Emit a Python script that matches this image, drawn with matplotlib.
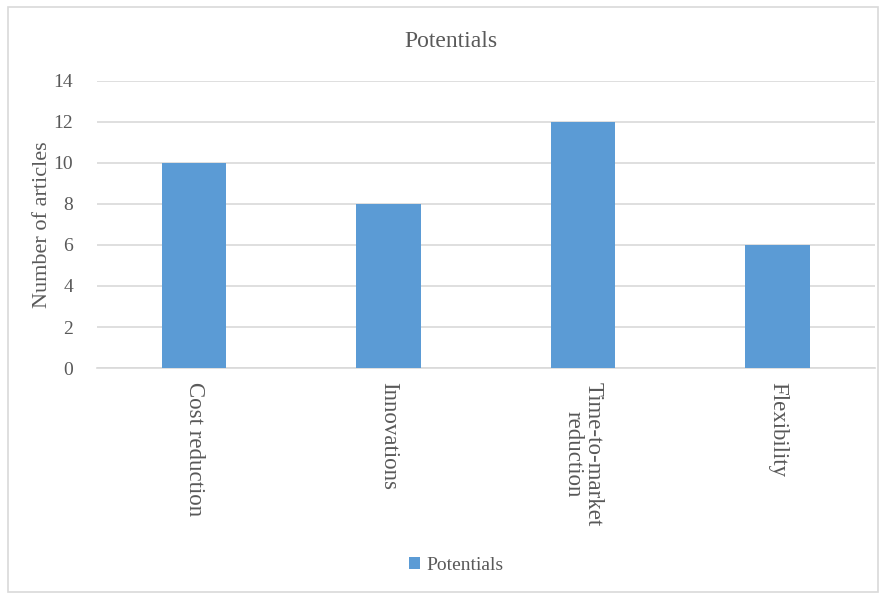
import matplotlib.pyplot as plt
from matplotlib.patches import Rectangle

categories = ["Cost reduction", "Innovations", "Time-to-market\nreduction", "Flexibility"]
articles = [10, 8, 12, 6]
y_ticks = [0, 2, 4, 6, 8, 10, 12, 14]

text_grey = "#595959"
grid_grey = "#d9d9d9"
bar_blue = "#5b9bd5"

plt.rcParams["font.family"] = ["Liberation Serif", "DejaVu Serif"]

fig = plt.figure(figsize=(8.8, 5.95), dpi=100)
ax = fig.add_axes([0.110, 0.3815, 0.884, 0.4824])

# chart area border
fig.patches.append(Rectangle((8 / 880, 3 / 595), 870 / 880, 585 / 595,
                             transform=fig.transFigure, fill=False,
                             edgecolor=grid_grey, linewidth=1.2))

x = range(len(categories))
ax.bar(x, articles, width=0.33, color=bar_blue, label="Potentials", zorder=3)

ax.set_xlim(-0.5, len(categories) - 0.5)
ax.set_ylim(0, 14)
ax.set_yticks(y_ticks)
ax.set_xticks(list(x))
ax.set_xticklabels(categories, rotation=270, ha="center", va="top",
                   multialignment="center", fontsize=16.5, color=text_grey,
                   linespacing=0.95)
ax.tick_params(axis="y", labelsize=14, labelcolor=text_grey, length=0, pad=17)
ax.tick_params(axis="x", length=0, pad=10)

ax.yaxis.grid(True, color=grid_grey, linewidth=1.2, zorder=0)
for side in ["top", "right", "left"]:
    ax.spines[side].set_visible(False)
ax.spines["bottom"].set_color(grid_grey)
ax.spines["bottom"].set_linewidth(1.2)

ax.set_ylabel("Number of articles", fontsize=16, color=text_grey)
ax.yaxis.set_label_coords(-0.057, 0.5)
fig.text(0.512, 0.93, "Potentials", ha="center", va="center",
         fontsize=17, color=text_grey)

fig.legend(loc="center", bbox_to_anchor=(0.518, 0.05), frameon=False,
           fontsize=14, handlelength=0.6, handleheight=0.6, handletextpad=0.3,
           labelcolor=text_grey)

fig.savefig("out.png", dpi=100)
